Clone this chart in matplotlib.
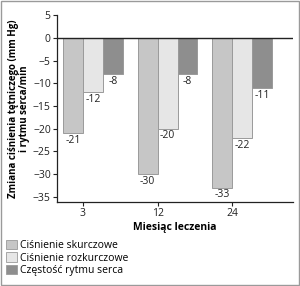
import numpy as np
import matplotlib.pyplot as plt
from matplotlib.patches import Patch, Rectangle

plt.rcParams['font.family'] = ['Open Sans', 'DejaVu Sans']

# Data
months = ['3', '12', '24']
skurczowe = [-21, -30, -33]
rozkurczowe = [-12, -20, -22]
serca = [-8, -8, -11]
series_names = ['Ciśnienie skurczowe', 'Ciśnienie rozkurczowe', 'Częstość rytmu serca']
colors = ['#c6c6c6', '#e6e6e6', '#8e8e8e']

fig = plt.figure(figsize=(3.0, 2.86), dpi=100)
ax = fig.add_axes([57 / 300, 1 - 202 / 286, (293 - 57) / 300, (202 - 15) / 286])

x = np.arange(len(months))
w = 0.267
for i, (vals, c) in enumerate(zip([skurczowe, rozkurczowe, serca], colors)):
    pos = x + (i - 0.5) * w
    ax.bar(pos, vals, width=w, color=c, edgecolor='#9a9a9a', linewidth=0.7, zorder=2)
    for p, v in zip(pos, vals):
        ax.text(p, v - 0.4, str(v), ha='center', va='top', fontsize=7.5, color='#222222')

ax.axhline(0, color='#222222', linewidth=1.0, zorder=3)
ax.set_xlim(-0.347, 2 + 0.813)
ax.set_ylim(-36.2, 5.1)
ax.set_yticks(np.arange(-35, 6, 5))
ax.set_xticks(x)
ax.set_xticklabels(months)
ax.tick_params(labelsize=7.5, colors='#222222', length=3, width=0.8, pad=1.5)
for s in ['top', 'right']:
    ax.spines[s].set_visible(False)
for s in ['left', 'bottom']:
    ax.spines[s].set_color('#222222')
    ax.spines[s].set_linewidth(0.9)

ax.set_ylabel('Zmiana ciśnienia tętniczego (mm Hg)\ni rytmu serca/min', fontsize=7,
              fontweight='bold', labelpad=2, linespacing=1.0)
ax.set_xlabel('Miesiąc leczenia', fontsize=7.5, fontweight='bold', labelpad=2)

handles = [Patch(facecolor=c, edgecolor='#9a9a9a', linewidth=0.6) for c in colors]
fig.legend(handles, series_names, loc='lower left', bbox_to_anchor=(0.0, 0.012),
           frameon=False, fontsize=7.5, handlelength=1.0, handleheight=1.0,
           handletextpad=0.3, labelspacing=0.15, borderaxespad=0.2)

fig.patches.append(Rectangle((0.003, 0.003), 0.994, 0.994, transform=fig.transFigure,
                             fill=False, edgecolor='#9a9a9a', linewidth=1.0))

fig.savefig('out.png', dpi=100)
